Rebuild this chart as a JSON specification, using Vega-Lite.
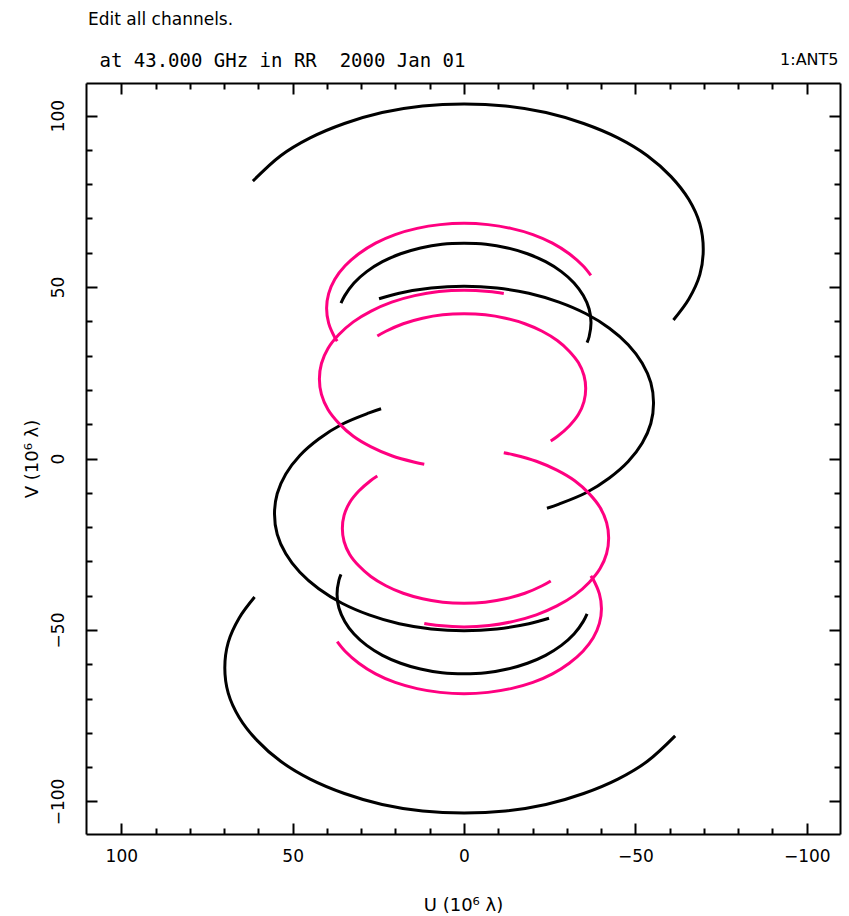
{
"$schema": "https://vega.github.io/schema/vega-lite/v6.json",
"width": 754, "height": 751,
"autosize": {"type": "none"},
"padding": {"left": 86, "top": 83, "right": 9, "bottom": 82},
"background": "white",
"title": {"text": "Edit all channels.", "subtitle": "\u200b\u00a0at 43.000 GHz in RR\u00a0\u00a02000 Jan 01", "anchor": "start", "frame": "group", "font": "DejaVu Sans", "fontSize": 17, "fontWeight": "normal", "color": "black", "subtitleFont": "DejaVu Sans Mono", "subtitleFontSize": 19, "subtitleColor": "black", "subtitlePadding": 23, "offset": -21, "dx": 2},
"datasets": {"tracks": [
{"arc":"A","grp":"1","i":0,"u":61.6,"v":80.9},{"arc":"A","grp":"1","i":1,"u":53.5,"v":88.3},{"arc":"A","grp":"1","i":2,"u":44.9,"v":93.5},{"arc":"A","grp":"1","i":3,"u":34.9,"v":97.7},{"arc":"A","grp":"1","i":4,"u":23.9,"v":100.9},{"arc":"A","grp":"1","i":5,"u":12.1,"v":102.8},{"arc":"A","grp":"1","i":6,"u":0,"v":103.4},{"arc":"A","grp":"1","i":7,"u":-12.1,"v":102.8},{"arc":"A","grp":"1","i":8,"u":-23.9,"v":100.9},{"arc":"A","grp":"1","i":9,"u":-34.9,"v":97.7},{"arc":"A","grp":"1","i":10,"u":-44.9,"v":93.5},{"arc":"A","grp":"1","i":11,"u":-53.5,"v":88.3},{"arc":"A","grp":"1","i":12,"u":-60.4,"v":82.2},{"arc":"A","grp":"1","i":13,"u":-65.6,"v":75.5},{"arc":"A","grp":"1","i":14,"u":-68.8,"v":68.4},{"arc":"A","grp":"1","i":15,"u":-69.8,"v":61},{"arc":"A","grp":"1","i":16,"u":-68.8,"v":53.6},{"arc":"A","grp":"1","i":17,"u":-65.6,"v":46.5},{"arc":"A","grp":"1","i":18,"u":-61.1,"v":40.4},
{"arc":"A2","grp":"1","i":0,"u":-61.6,"v":-80.9},{"arc":"A2","grp":"1","i":1,"u":-53.5,"v":-88.3},{"arc":"A2","grp":"1","i":2,"u":-44.9,"v":-93.5},{"arc":"A2","grp":"1","i":3,"u":-34.9,"v":-97.7},{"arc":"A2","grp":"1","i":4,"u":-23.9,"v":-100.9},{"arc":"A2","grp":"1","i":5,"u":-12.1,"v":-102.8},{"arc":"A2","grp":"1","i":6,"u":0,"v":-103.4},{"arc":"A2","grp":"1","i":7,"u":12.1,"v":-102.8},{"arc":"A2","grp":"1","i":8,"u":23.9,"v":-100.9},{"arc":"A2","grp":"1","i":9,"u":34.9,"v":-97.7},{"arc":"A2","grp":"1","i":10,"u":44.9,"v":-93.5},{"arc":"A2","grp":"1","i":11,"u":53.5,"v":-88.3},{"arc":"A2","grp":"1","i":12,"u":60.4,"v":-82.2},{"arc":"A2","grp":"1","i":13,"u":65.6,"v":-75.5},{"arc":"A2","grp":"1","i":14,"u":68.8,"v":-68.4},{"arc":"A2","grp":"1","i":15,"u":69.8,"v":-61},{"arc":"A2","grp":"1","i":16,"u":68.8,"v":-53.6},{"arc":"A2","grp":"1","i":17,"u":65.6,"v":-46.5},{"arc":"A2","grp":"1","i":18,"u":61.1,"v":-40.4},
{"arc":"B","grp":"1","i":0,"u":24.8,"v":46.6},{"arc":"B","grp":"1","i":1,"u":18.9,"v":48.2},{"arc":"B","grp":"1","i":2,"u":9.6,"v":49.7},{"arc":"B","grp":"1","i":3,"u":0,"v":50.2},{"arc":"B","grp":"1","i":4,"u":-9.6,"v":49.7},{"arc":"B","grp":"1","i":5,"u":-18.9,"v":48.2},{"arc":"B","grp":"1","i":6,"u":-27.7,"v":45.6},{"arc":"B","grp":"1","i":7,"u":-35.6,"v":42.2},{"arc":"B","grp":"1","i":8,"u":-42.4,"v":38.0},{"arc":"B","grp":"1","i":9,"u":-47.9,"v":33.2},{"arc":"B","grp":"1","i":10,"u":-52.0,"v":27.8},{"arc":"B","grp":"1","i":11,"u":-54.5,"v":22.1},{"arc":"B","grp":"1","i":12,"u":-55.3,"v":16.15},{"arc":"B","grp":"1","i":13,"u":-54.5,"v":10.2},{"arc":"B","grp":"1","i":14,"u":-52.0,"v":4.5},{"arc":"B","grp":"1","i":15,"u":-47.9,"v":-0.9},{"arc":"B","grp":"1","i":16,"u":-42.4,"v":-5.7},{"arc":"B","grp":"1","i":17,"u":-35.6,"v":-10.0},{"arc":"B","grp":"1","i":18,"u":-27.7,"v":-13.3},{"arc":"B","grp":"1","i":19,"u":-24.2,"v":-14.5},
{"arc":"B2","grp":"1","i":0,"u":-24.8,"v":-46.6},{"arc":"B2","grp":"1","i":1,"u":-18.9,"v":-48.2},{"arc":"B2","grp":"1","i":2,"u":-9.6,"v":-49.7},{"arc":"B2","grp":"1","i":3,"u":0,"v":-50.2},{"arc":"B2","grp":"1","i":4,"u":9.6,"v":-49.7},{"arc":"B2","grp":"1","i":5,"u":18.9,"v":-48.2},{"arc":"B2","grp":"1","i":6,"u":27.7,"v":-45.6},{"arc":"B2","grp":"1","i":7,"u":35.6,"v":-42.2},{"arc":"B2","grp":"1","i":8,"u":42.4,"v":-38.0},{"arc":"B2","grp":"1","i":9,"u":47.9,"v":-33.2},{"arc":"B2","grp":"1","i":10,"u":52.0,"v":-27.8},{"arc":"B2","grp":"1","i":11,"u":54.5,"v":-22.1},{"arc":"B2","grp":"1","i":12,"u":55.3,"v":-16.15},{"arc":"B2","grp":"1","i":13,"u":54.5,"v":-10.2},{"arc":"B2","grp":"1","i":14,"u":52.0,"v":-4.5},{"arc":"B2","grp":"1","i":15,"u":47.9,"v":0.9},{"arc":"B2","grp":"1","i":16,"u":42.4,"v":5.7},{"arc":"B2","grp":"1","i":17,"u":35.6,"v":10.0},{"arc":"B2","grp":"1","i":18,"u":27.7,"v":13.3},{"arc":"B2","grp":"1","i":19,"u":24.2,"v":14.5},
{"arc":"C","grp":"1","i":0,"u":35.9,"v":45.3},{"arc":"C","grp":"1","i":1,"u":34.8,"v":47.5},{"arc":"C","grp":"1","i":2,"u":32.1,"v":51.2},{"arc":"C","grp":"1","i":3,"u":28.4,"v":54.5},{"arc":"C","grp":"1","i":4,"u":23.8,"v":57.4},{"arc":"C","grp":"1","i":5,"u":18.5,"v":59.7},{"arc":"C","grp":"1","i":6,"u":12.7,"v":61.4},{"arc":"C","grp":"1","i":7,"u":6.4,"v":62.5},{"arc":"C","grp":"1","i":8,"u":0,"v":62.8},{"arc":"C","grp":"1","i":9,"u":-6.4,"v":62.5},{"arc":"C","grp":"1","i":10,"u":-12.7,"v":61.4},{"arc":"C","grp":"1","i":11,"u":-18.5,"v":59.7},{"arc":"C","grp":"1","i":12,"u":-23.8,"v":57.4},{"arc":"C","grp":"1","i":13,"u":-28.4,"v":54.5},{"arc":"C","grp":"1","i":14,"u":-32.1,"v":51.2},{"arc":"C","grp":"1","i":15,"u":-34.8,"v":47.5},{"arc":"C","grp":"1","i":16,"u":-36.5,"v":43.6},{"arc":"C","grp":"1","i":17,"u":-37.05,"v":39.55},{"arc":"C","grp":"1","i":18,"u":-36.5,"v":35.5},{"arc":"C","grp":"1","i":19,"u":-35.9,"v":33.8},
{"arc":"C2","grp":"1","i":0,"u":-35.9,"v":-45.3},{"arc":"C2","grp":"1","i":1,"u":-34.8,"v":-47.5},{"arc":"C2","grp":"1","i":2,"u":-32.1,"v":-51.2},{"arc":"C2","grp":"1","i":3,"u":-28.4,"v":-54.5},{"arc":"C2","grp":"1","i":4,"u":-23.8,"v":-57.4},{"arc":"C2","grp":"1","i":5,"u":-18.5,"v":-59.7},{"arc":"C2","grp":"1","i":6,"u":-12.7,"v":-61.4},{"arc":"C2","grp":"1","i":7,"u":-6.4,"v":-62.5},{"arc":"C2","grp":"1","i":8,"u":0,"v":-62.8},{"arc":"C2","grp":"1","i":9,"u":6.4,"v":-62.5},{"arc":"C2","grp":"1","i":10,"u":12.7,"v":-61.4},{"arc":"C2","grp":"1","i":11,"u":18.5,"v":-59.7},{"arc":"C2","grp":"1","i":12,"u":23.8,"v":-57.4},{"arc":"C2","grp":"1","i":13,"u":28.4,"v":-54.5},{"arc":"C2","grp":"1","i":14,"u":32.1,"v":-51.2},{"arc":"C2","grp":"1","i":15,"u":34.8,"v":-47.5},{"arc":"C2","grp":"1","i":16,"u":36.5,"v":-43.6},{"arc":"C2","grp":"1","i":17,"u":37.05,"v":-39.55},{"arc":"C2","grp":"1","i":18,"u":36.5,"v":-35.5},{"arc":"C2","grp":"1","i":19,"u":35.9,"v":-33.8},
{"arc":"D","grp":"2","i":0,"u":37.0,"v":34.2},{"arc":"D","grp":"2","i":1,"u":37.7,"v":35.3},{"arc":"D","grp":"2","i":2,"u":39.5,"v":39.5},{"arc":"D","grp":"2","i":3,"u":40.1,"v":43.8},{"arc":"D","grp":"2","i":4,"u":39.5,"v":48.1},{"arc":"D","grp":"2","i":5,"u":37.7,"v":52.3},{"arc":"D","grp":"2","i":6,"u":34.7,"v":56.2},{"arc":"D","grp":"2","i":7,"u":30.7,"v":59.7},{"arc":"D","grp":"2","i":8,"u":25.8,"v":62.8},{"arc":"D","grp":"2","i":9,"u":20.1,"v":65.3},{"arc":"D","grp":"2","i":10,"u":13.7,"v":67.1},{"arc":"D","grp":"2","i":11,"u":7.0,"v":68.2},{"arc":"D","grp":"2","i":12,"u":0,"v":68.6},{"arc":"D","grp":"2","i":13,"u":-7.0,"v":68.2},{"arc":"D","grp":"2","i":14,"u":-13.7,"v":67.1},{"arc":"D","grp":"2","i":15,"u":-20.1,"v":65.3},{"arc":"D","grp":"2","i":16,"u":-25.8,"v":62.8},{"arc":"D","grp":"2","i":17,"u":-30.7,"v":59.7},{"arc":"D","grp":"2","i":18,"u":-34.7,"v":56.2},{"arc":"D","grp":"2","i":19,"u":-37.0,"v":53.4},
{"arc":"D2","grp":"2","i":0,"u":-37.0,"v":-34.2},{"arc":"D2","grp":"2","i":1,"u":-37.7,"v":-35.3},{"arc":"D2","grp":"2","i":2,"u":-39.5,"v":-39.5},{"arc":"D2","grp":"2","i":3,"u":-40.1,"v":-43.8},{"arc":"D2","grp":"2","i":4,"u":-39.5,"v":-48.1},{"arc":"D2","grp":"2","i":5,"u":-37.7,"v":-52.3},{"arc":"D2","grp":"2","i":6,"u":-34.7,"v":-56.2},{"arc":"D2","grp":"2","i":7,"u":-30.7,"v":-59.7},{"arc":"D2","grp":"2","i":8,"u":-25.8,"v":-62.8},{"arc":"D2","grp":"2","i":9,"u":-20.1,"v":-65.3},{"arc":"D2","grp":"2","i":10,"u":-13.7,"v":-67.1},{"arc":"D2","grp":"2","i":11,"u":-7.0,"v":-68.2},{"arc":"D2","grp":"2","i":12,"u":0,"v":-68.6},{"arc":"D2","grp":"2","i":13,"u":7.0,"v":-68.2},{"arc":"D2","grp":"2","i":14,"u":13.7,"v":-67.1},{"arc":"D2","grp":"2","i":15,"u":20.1,"v":-65.3},{"arc":"D2","grp":"2","i":16,"u":25.8,"v":-62.8},{"arc":"D2","grp":"2","i":17,"u":30.7,"v":-59.7},{"arc":"D2","grp":"2","i":18,"u":34.7,"v":-56.2},{"arc":"D2","grp":"2","i":19,"u":37.0,"v":-53.4},
{"arc":"E","grp":"2","i":0,"u":11.6,"v":-1.7},{"arc":"E","grp":"2","i":1,"u":14.4,"v":-1.1},{"arc":"E","grp":"2","i":2,"u":21.1,"v":0.8},{"arc":"E","grp":"2","i":3,"u":27.1,"v":3.4},{"arc":"E","grp":"2","i":4,"u":32.3,"v":6.5},{"arc":"E","grp":"2","i":5,"u":36.5,"v":10.25},{"arc":"E","grp":"2","i":6,"u":39.7,"v":14.3},{"arc":"E","grp":"2","i":7,"u":41.6,"v":18.7},{"arc":"E","grp":"2","i":8,"u":42.2,"v":23.2},{"arc":"E","grp":"2","i":9,"u":41.6,"v":27.7},{"arc":"E","grp":"2","i":10,"u":39.7,"v":32.1},{"arc":"E","grp":"2","i":11,"u":36.5,"v":36.15},{"arc":"E","grp":"2","i":12,"u":32.3,"v":39.85},{"arc":"E","grp":"2","i":13,"u":27.1,"v":43.0},{"arc":"E","grp":"2","i":14,"u":21.1,"v":45.6},{"arc":"E","grp":"2","i":15,"u":14.4,"v":47.5},{"arc":"E","grp":"2","i":16,"u":7.3,"v":48.7},{"arc":"E","grp":"2","i":17,"u":0,"v":49.1},{"arc":"E","grp":"2","i":18,"u":-7.3,"v":48.7},{"arc":"E","grp":"2","i":19,"u":-11.6,"v":48.1},
{"arc":"E2","grp":"2","i":0,"u":-11.6,"v":1.7},{"arc":"E2","grp":"2","i":1,"u":-14.4,"v":1.1},{"arc":"E2","grp":"2","i":2,"u":-21.1,"v":-0.8},{"arc":"E2","grp":"2","i":3,"u":-27.1,"v":-3.4},{"arc":"E2","grp":"2","i":4,"u":-32.3,"v":-6.5},{"arc":"E2","grp":"2","i":5,"u":-36.5,"v":-10.25},{"arc":"E2","grp":"2","i":6,"u":-39.7,"v":-14.3},{"arc":"E2","grp":"2","i":7,"u":-41.6,"v":-18.7},{"arc":"E2","grp":"2","i":8,"u":-42.2,"v":-23.2},{"arc":"E2","grp":"2","i":9,"u":-41.6,"v":-27.7},{"arc":"E2","grp":"2","i":10,"u":-39.7,"v":-32.1},{"arc":"E2","grp":"2","i":11,"u":-36.5,"v":-36.15},{"arc":"E2","grp":"2","i":12,"u":-32.3,"v":-39.85},{"arc":"E2","grp":"2","i":13,"u":-27.1,"v":-43.0},{"arc":"E2","grp":"2","i":14,"u":-21.1,"v":-45.6},{"arc":"E2","grp":"2","i":15,"u":-14.4,"v":-47.5},{"arc":"E2","grp":"2","i":16,"u":-7.3,"v":-48.7},{"arc":"E2","grp":"2","i":17,"u":0,"v":-49.1},{"arc":"E2","grp":"2","i":18,"u":7.3,"v":-48.7},{"arc":"E2","grp":"2","i":19,"u":11.6,"v":-48.1},
{"arc":"F","grp":"2","i":0,"u":25.3,"v":35.7},{"arc":"F","grp":"2","i":1,"u":22.8,"v":37.1},{"arc":"F","grp":"2","i":2,"u":17.75,"v":39.3},{"arc":"F","grp":"2","i":3,"u":12.1,"v":40.9},{"arc":"F","grp":"2","i":4,"u":6.2,"v":41.9},{"arc":"F","grp":"2","i":5,"u":0,"v":42.2},{"arc":"F","grp":"2","i":6,"u":-6.2,"v":41.9},{"arc":"F","grp":"2","i":7,"u":-12.1,"v":40.9},{"arc":"F","grp":"2","i":8,"u":-17.75,"v":39.3},{"arc":"F","grp":"2","i":9,"u":-22.8,"v":37.1},{"arc":"F","grp":"2","i":10,"u":-27.2,"v":34.4},{"arc":"F","grp":"2","i":11,"u":-30.7,"v":31.3},{"arc":"F","grp":"2","i":12,"u":-33.4,"v":27.9},{"arc":"F","grp":"2","i":13,"u":-35.0,"v":24.2},{"arc":"F","grp":"2","i":14,"u":-35.5,"v":20.4},{"arc":"F","grp":"2","i":15,"u":-35.0,"v":16.6},{"arc":"F","grp":"2","i":16,"u":-33.4,"v":12.9},{"arc":"F","grp":"2","i":17,"u":-30.7,"v":9.5},{"arc":"F","grp":"2","i":18,"u":-27.2,"v":6.4},{"arc":"F","grp":"2","i":19,"u":-25.3,"v":5.1},
{"arc":"F2","grp":"2","i":0,"u":-25.3,"v":-35.7},{"arc":"F2","grp":"2","i":1,"u":-22.8,"v":-37.1},{"arc":"F2","grp":"2","i":2,"u":-17.75,"v":-39.3},{"arc":"F2","grp":"2","i":3,"u":-12.1,"v":-40.9},{"arc":"F2","grp":"2","i":4,"u":-6.2,"v":-41.9},{"arc":"F2","grp":"2","i":5,"u":0,"v":-42.2},{"arc":"F2","grp":"2","i":6,"u":6.2,"v":-41.9},{"arc":"F2","grp":"2","i":7,"u":12.1,"v":-40.9},{"arc":"F2","grp":"2","i":8,"u":17.75,"v":-39.3},{"arc":"F2","grp":"2","i":9,"u":22.8,"v":-37.1},{"arc":"F2","grp":"2","i":10,"u":27.2,"v":-34.4},{"arc":"F2","grp":"2","i":11,"u":30.7,"v":-31.3},{"arc":"F2","grp":"2","i":12,"u":33.4,"v":-27.9},{"arc":"F2","grp":"2","i":13,"u":35.0,"v":-24.2},{"arc":"F2","grp":"2","i":14,"u":35.5,"v":-20.4},{"arc":"F2","grp":"2","i":15,"u":35.0,"v":-16.6},{"arc":"F2","grp":"2","i":16,"u":33.4,"v":-12.9},{"arc":"F2","grp":"2","i":17,"u":30.7,"v":-9.5},{"arc":"F2","grp":"2","i":18,"u":27.2,"v":-6.4},{"arc":"F2","grp":"2","i":19,"u":25.3,"v":-5.1}
]},
"data": {"name": "tracks"},
"layer": [
{"transform": [{"filter": "datum.grp === '1'"}],
 "mark": {"type": "line", "interpolate": "catmull-rom", "strokeWidth": 3, "color": "#000000", "clip": true},
 "encoding": {
  "x": {"field": "u", "type": "quantitative", "scale": {"domain": [110.3, -109.7], "nice": false, "zero": false},
        "axis": {"orient": "bottom", "title": "U (10⁶ λ)", "values": [-100,-90,-80,-70,-60,-50,-40,-30,-20,-10,0,10,20,30,40,50,60,70,80,90,100],
                 "labelExpr": "datum.value % 50 === 0 ? datum.label : ''",
                 "tickSize": {"condition": {"test": "datum.value % 50 === 0", "value": -11}, "value": -6},
                 "labelPadding": 25, "labelBaseline": "top", "titlePadding": 27}},
  "y": {"field": "v", "type": "quantitative", "scale": {"domain": [-109.5, 109.5], "nice": false, "zero": false},
        "axis": {"orient": "left", "title": "V (10⁶ λ)", "values": [-100,-90,-80,-70,-60,-50,-40,-30,-20,-10,0,10,20,30,40,50,60,70,80,90,100],
                 "labelExpr": "datum.value % 50 === 0 ? datum.label : ''",
                 "tickSize": {"condition": {"test": "datum.value % 50 === 0", "value": -11}, "value": -6},
                 "labelAngle": -90, "labelAlign": "center", "labelBaseline": "bottom", "labelPadding": 30, "titlePadding": 3}},
  "detail": {"field": "arc"},
  "order": {"field": "i", "type": "quantitative"}
 }},
{"transform": [{"filter": "datum.grp === '2'"}],
 "mark": {"type": "line", "interpolate": "catmull-rom", "strokeWidth": 3, "color": "#ff0080", "clip": true},
 "encoding": {
  "x": {"field": "u", "type": "quantitative", "scale": {"domain": [110.3, -109.7], "nice": false, "zero": false},
        "axis": {"orient": "top", "title": "1:ANT5", "labels": false, "values": [-100,-90,-80,-70,-60,-50,-40,-30,-20,-10,0,10,20,30,40,50,60,70,80,90,100],
                 "tickSize": {"condition": {"test": "datum.value % 50 === 0", "value": -11}, "value": -6},
                 "titleAnchor": "end", "titleAlign": "right", "titleX": 752, "titleY": -24, "titleBaseline": "middle", "titleFontSize": 16}},
  "y": {"field": "v", "type": "quantitative", "scale": {"domain": [-109.5, 109.5], "nice": false, "zero": false},
        "axis": {"orient": "right", "title": null, "labels": false, "values": [-100,-90,-80,-70,-60,-50,-40,-30,-20,-10,0,10,20,30,40,50,60,70,80,90,100],
                 "tickSize": {"condition": {"test": "datum.value % 50 === 0", "value": -11}, "value": -6}}},
  "detail": {"field": "arc"},
  "order": {"field": "i", "type": "quantitative"}
 }}
],
"resolve": {"axis": {"x": "independent", "y": "independent"}},
"config": {
 "view": {"stroke": null},
 "axis": {"grid": false, "domainColor": "#000000", "domainWidth": 2, "tickColor": "#000000", "tickWidth": 2,
          "labelColor": "#000000", "labelFont": "DejaVu Sans", "labelFontSize": 17, "labelFlush": false, "labelOverlap": false,
          "titleColor": "#000000", "titleFont": "DejaVu Sans", "titleFontSize": 18, "titleFontWeight": "normal"}
}
}
